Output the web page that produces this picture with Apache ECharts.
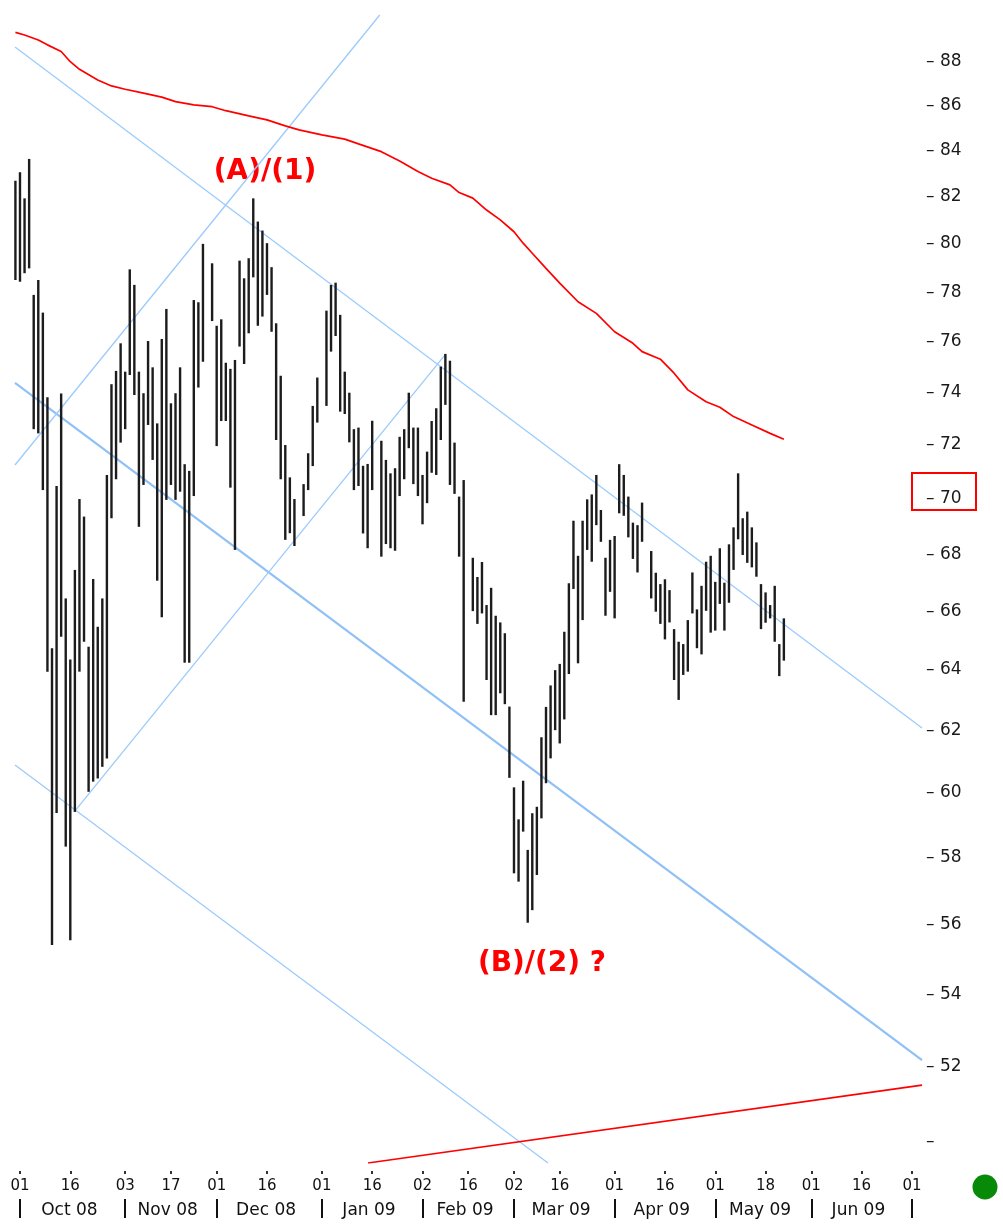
<!DOCTYPE html>
<html>
<head>
<meta charset="utf-8">
<script src="https://cdn.jsdelivr.net/npm/echarts@6/dist/echarts.min.js"></script>
<style>
  html, body { margin: 0; padding: 0; background: #ffffff; }
  #chart { width: 1003px; height: 1225px; }
</style>
</head>
<body>
<div id="chart"></div>
<script>
// ---------- calendar (x categories: every weekday starting 2008-09-30) ----------
const startDate = '2008-09-30';
const calendarLength = 200;

// ---------- daily bars: high / low (index 0 = 2008-09-30, null = market holiday) ----------
const highs = [82.69,83.06,81.93,83.64,77.89,78.50,77.17,73.82,64.73,70.47,
73.97,66.44,64.35,67.44,69.99,69.35,64.78,67.12,65.46,66.44,
70.88,74.33,74.85,75.94,74.82,78.94,78.30,74.82,73.98,76.03,
74.99,72.82,76.11,77.32,73.59,73.98,74.99,71.28,71.03,77.68,
77.59,80.00,null,79.19,76.64,76.90,75.17,74.93,75.28,79.30,
78.57,79.40,81.93,80.94,80.56,80.03,79.03,76.74,74.66,72.00,
70.79,69.99,null,70.54,71.69,73.49,74.59,null,77.25,78.30,
78.39,77.08,74.82,74.00,72.60,72.66,71.22,71.29,72.92,null,
72.16,71.44,70.94,71.13,72.31,72.60,74.00,72.66,72.66,70.88,
71.75,72.91,73.40,75.02,75.52,75.25,72.09,70.08,70.69,null,
67.87,67.19,67.72,66.21,66.81,65.84,65.61,65.24,62.78,60.18,
59.18,60.39,58.24,59.37,59.57,61.78,62.77,63.48,63.99,64.20,
65.29,66.97,69.20,67.94,69.20,69.98,70.16,70.88,69.59,67.87,
68.51,68.65,71.28,70.88,70.08,69.13,69.04,69.86,null,68.11,
67.34,66.94,67.11,66.73,65.38,64.95,64.87,65.69,67.35,66.06,
66.88,67.73,67.94,67.02,68.21,66.99,68.35,68.96,70.94,69.29,
69.53,68.96,68.42,66.94,66.65,66.21,66.88,64.87,65.75];

const lows = [78.50,78.43,78.78,78.98,72.60,72.44,70.32,63.94,55.41,59.38,
65.12,58.34,55.55,59.41,63.94,64.95,60.04,60.36,60.46,60.83,
61.10,69.29,70.72,72.09,72.60,74.69,73.91,68.98,70.51,72.76,
71.44,67.06,65.79,69.96,70.51,69.96,70.26,64.24,64.24,70.10,
74.20,75.21,null,76.83,71.96,72.91,72.91,70.41,68.15,75.81,
75.12,76.34,78.61,76.64,77.01,77.89,76.40,72.19,70.72,68.51,
68.75,68.29,null,69.37,70.32,71.21,72.85,null,73.49,75.61,
76.23,73.27,73.18,72.10,70.32,70.47,68.74,68.21,70.32,null,
67.91,68.36,68.21,68.12,70.10,70.72,71.88,70.54,70.10,69.07,
69.84,70.96,70.88,72.19,73.53,70.51,70.18,67.91,62.94,null,
66.00,65.56,65.92,63.66,62.50,62.50,63.22,62.86,60.48,57.53,
57.28,58.80,56.06,56.43,57.48,59.21,60.31,61.10,62.01,61.58,
62.36,63.86,66.77,64.22,65.69,68.15,67.73,69.04,68.44,65.84,
66.67,65.75,69.47,69.38,68.60,67.83,67.35,68.44,null,66.44,
65.98,65.56,65.03,65.61,63.66,63.00,63.83,63.94,65.92,64.73,
64.52,66.01,65.26,65.33,66.25,65.33,66.29,67.44,68.53,67.97,
67.69,67.53,67.20,65.38,65.60,65.75,64.95,63.79,64.31];

// ---------- moving average (red curve), sampled ----------
const maIdx = [0,2,5,7,10,12,14,18,21,24,28,32,35,39,43,46,51,55,59,62,67,72,75,80,84,88,91,95,97,100,103,106,109,111,113,116,119,123,127,131,135,137,141,144,147,151,154,157,161,165,168];
const maVal = [89.37,89.25,89.02,88.79,88.48,88.01,87.66,87.17,86.90,86.75,86.57,86.39,86.19,86.04,85.96,85.78,85.55,85.37,85.10,84.92,84.70,84.51,84.30,83.96,83.55,83.09,82.80,82.51,82.18,81.94,81.43,81.01,80.51,80.03,79.61,78.98,78.37,77.61,77.14,76.40,75.94,75.61,75.31,74.76,74.11,73.65,73.44,73.08,72.76,72.44,72.22];

// ---------- trend lines: [index, price] end points ----------
const upperChannel = [[-0.09, 88.69], [198.2, 62.08]];
const midChannel   = [[-0.09, 74.38], [198.2, 52.17]];
const lowerChannel = [[-0.09, 60.89], [116.44, 49.43]];
const riseLineA    = [[-0.09, 71.25], [79.65, 90.19]];
const riseLineB    = [[13.03, 59.44], [93.92, 75.48]];
const redBaseLine  = [[77.09, 49.43], [198.2, 51.49]];

// ---------- axis ticks / labels ----------
const dayTickDates = ['2008-10-01','2008-10-16','2008-11-03','2008-11-17','2008-12-01','2008-12-16','2009-01-01','2009-01-16','2009-02-02','2009-02-16','2009-03-02','2009-03-16','2009-04-01','2009-04-16','2009-05-01','2009-05-18','2009-06-01','2009-06-16','2009-07-01'];
const monthStartDates = ['2008-10-01','2008-11-03','2008-12-01','2009-01-01','2009-02-02','2009-03-02','2009-04-01','2009-05-01','2009-06-01','2009-07-01'];
const monthLabels = ['Oct 08','Nov 08','Dec 08','Jan 09','Feb 09','Mar 09','Apr 09','May 09','Jun 09'];
const yTickValues = [50,52,54,56,58,60,62,64,66,68,70,72,74,76,78,80,82,84,86,88];
const yUnlabeled = [50];
const yRange = [49.43, 90.19];
const xRange = [-0.09, 198.2];

// ---------- build calendar ----------
function buildWeekdays(start, n) {
  const out = [];
  const p = start.split('-').map(Number);
  let t = Date.UTC(p[0], p[1] - 1, p[2]);
  while (out.length < n) {
    const d = new Date(t);
    const wd = d.getUTCDay();
    if (wd !== 0 && wd !== 6) out.push(d.toISOString().slice(0, 10));
    t += 86400000;
  }
  return out;
}
const dates = buildWeekdays(startDate, calendarLength);
const idxOf = {};
dates.forEach((d, i) => { idxOf[d] = i; });

const dayTickIdx = dayTickDates.map(d => idxOf[d]);
const dayLabelMap = {};
dayTickDates.forEach(d => { dayLabelMap[idxOf[d]] = d.slice(8, 10); });
const monthStartIdx = monthStartDates.map(d => idxOf[d]);
const monthMidIdx = monthLabels.map((m, k) => (monthStartIdx[k] + monthStartIdx[k + 1]) / 2 - 0.7);
function monthLabelFor(v) {
  let best = 0, bd = 1e9;
  monthMidIdx.forEach((m, k) => { const dd = Math.abs(m - v); if (dd < bd) { bd = dd; best = k; } });
  return monthLabels[best];
}

const L = Math.log;
const barData = [];
highs.forEach((h, i) => {
  if (h != null && lows[i] != null) barData.push([i, L(lows[i]), L(highs[i])]);
});
const toLog = arr => arr.map(p => [p[0], L(p[1])]);
const maData = maIdx.map((i, k) => [i, L(maVal[k])]);

const blueThin = { color: '#9ccafc', width: 1.3 };
const blueThick = { color: '#8fc1f7', width: 2.2 };
function lineSeries(data, style, z) {
  return {
    type: 'line', data: data, showSymbol: false, symbol: 'none', silent: true,
    clip: true, z: z || 2, lineStyle: style, animation: false
  };
}

function yLabel(v) {
  const n = Math.round(Math.exp(v));
  return yUnlabeled.indexOf(n) >= 0 ? '\u2013' : '\u2013 ' + n;
}

const chart = echarts.init(document.getElementById('chart'), null, { renderer: 'canvas' });
const option = {
  backgroundColor: '#ffffff',
  animation: false,
  grid: { left: 15, top: 15, width: 907, height: 1148, outerBoundsMode: 'none', containLabel: false },
  xAxis: [
    {
      type: 'value', min: xRange[0], max: xRange[1], position: 'bottom', offset: 8,
      axisLine: { show: false }, splitLine: { show: false },
      axisTick: { show: true, customValues: dayTickIdx, length: 3, lineStyle: { color: '#333', width: 2 } },
      axisLabel: {
        customValues: dayTickIdx, margin: 8, fontFamily: 'DejaVu Sans', fontSize: 15, color: '#111',
        formatter: v => dayLabelMap[Math.round(v)] || ''
      }
    },
    {
      type: 'value', min: xRange[0], max: xRange[1], position: 'bottom', offset: 36,
      axisLine: { show: false }, splitLine: { show: false },
      axisTick: { show: true, customValues: monthStartIdx, length: 19, lineStyle: { color: '#111', width: 2 } },
      axisLabel: {
        customValues: monthMidIdx, margin: 3, fontFamily: 'DejaVu Sans', fontSize: 17, color: '#111',
        formatter: v => monthLabelFor(v)
      }
    }
  ],
  yAxis: {
    type: 'value', min: L(yRange[0]), max: L(yRange[1]), position: 'right', offset: 0,
    axisLine: { show: false }, splitLine: { show: false },
    axisTick: { show: false },
    axisLabel: {
      customValues: yTickValues.map(L), margin: 4, fontFamily: 'DejaVu Sans', fontSize: 17, color: '#1a1a1a',
      padding: [4, 0, 0, 0],
      formatter: yLabel
    }
  },
  series: [
    lineSeries(toLog(upperChannel), blueThin),
    lineSeries(toLog(midChannel), blueThick),
    lineSeries(toLog(lowerChannel), blueThin),
    lineSeries(toLog(riseLineA), blueThin),
    lineSeries(toLog(riseLineB), blueThin),
    lineSeries(maData, { color: '#ff0000', width: 1.7 }, 3),
    lineSeries(toLog(redBaseLine), { color: '#ff0000', width: 1.7 }, 3),
    {
      type: 'custom', z: 5, silent: true, animation: false,
      data: barData,
      encode: { x: 0, y: [1, 2] },
      renderItem: function (params, api) {
        const x = api.value(0);
        const lo = api.coord([x, api.value(1)]);
        const hi = api.coord([x, api.value(2)]);
        return {
          type: 'rect',
          shape: { x: lo[0] - 1.2, y: hi[1], width: 2.4, height: Math.max(1, lo[1] - hi[1]) },
          style: { fill: '#1c1c1c' }
        };
      }
    }
  ],
  graphic: [
    { type: 'text', x: 265, y: 172, style: { text: '(A)/(1)', fill: '#ff0000', font: 'bold 28px "DejaVu Sans"', align: 'center', verticalAlign: 'middle' } },
    { type: 'text', x: 542, y: 964, style: { text: '(B)/(2) ?', fill: '#ff0000', font: 'bold 28px "DejaVu Sans"', align: 'center', verticalAlign: 'middle' } },
    { type: 'rect', shape: { x: 912, y: 473, width: 64, height: 37 }, style: { fill: null, stroke: '#ff0000', lineWidth: 2 } },
    { type: 'circle', shape: { cx: 985, cy: 1187, r: 12.5 }, style: { fill: '#078a07' } }
  ]
};
chart.setOption(option);
</script>
</body>
</html>
